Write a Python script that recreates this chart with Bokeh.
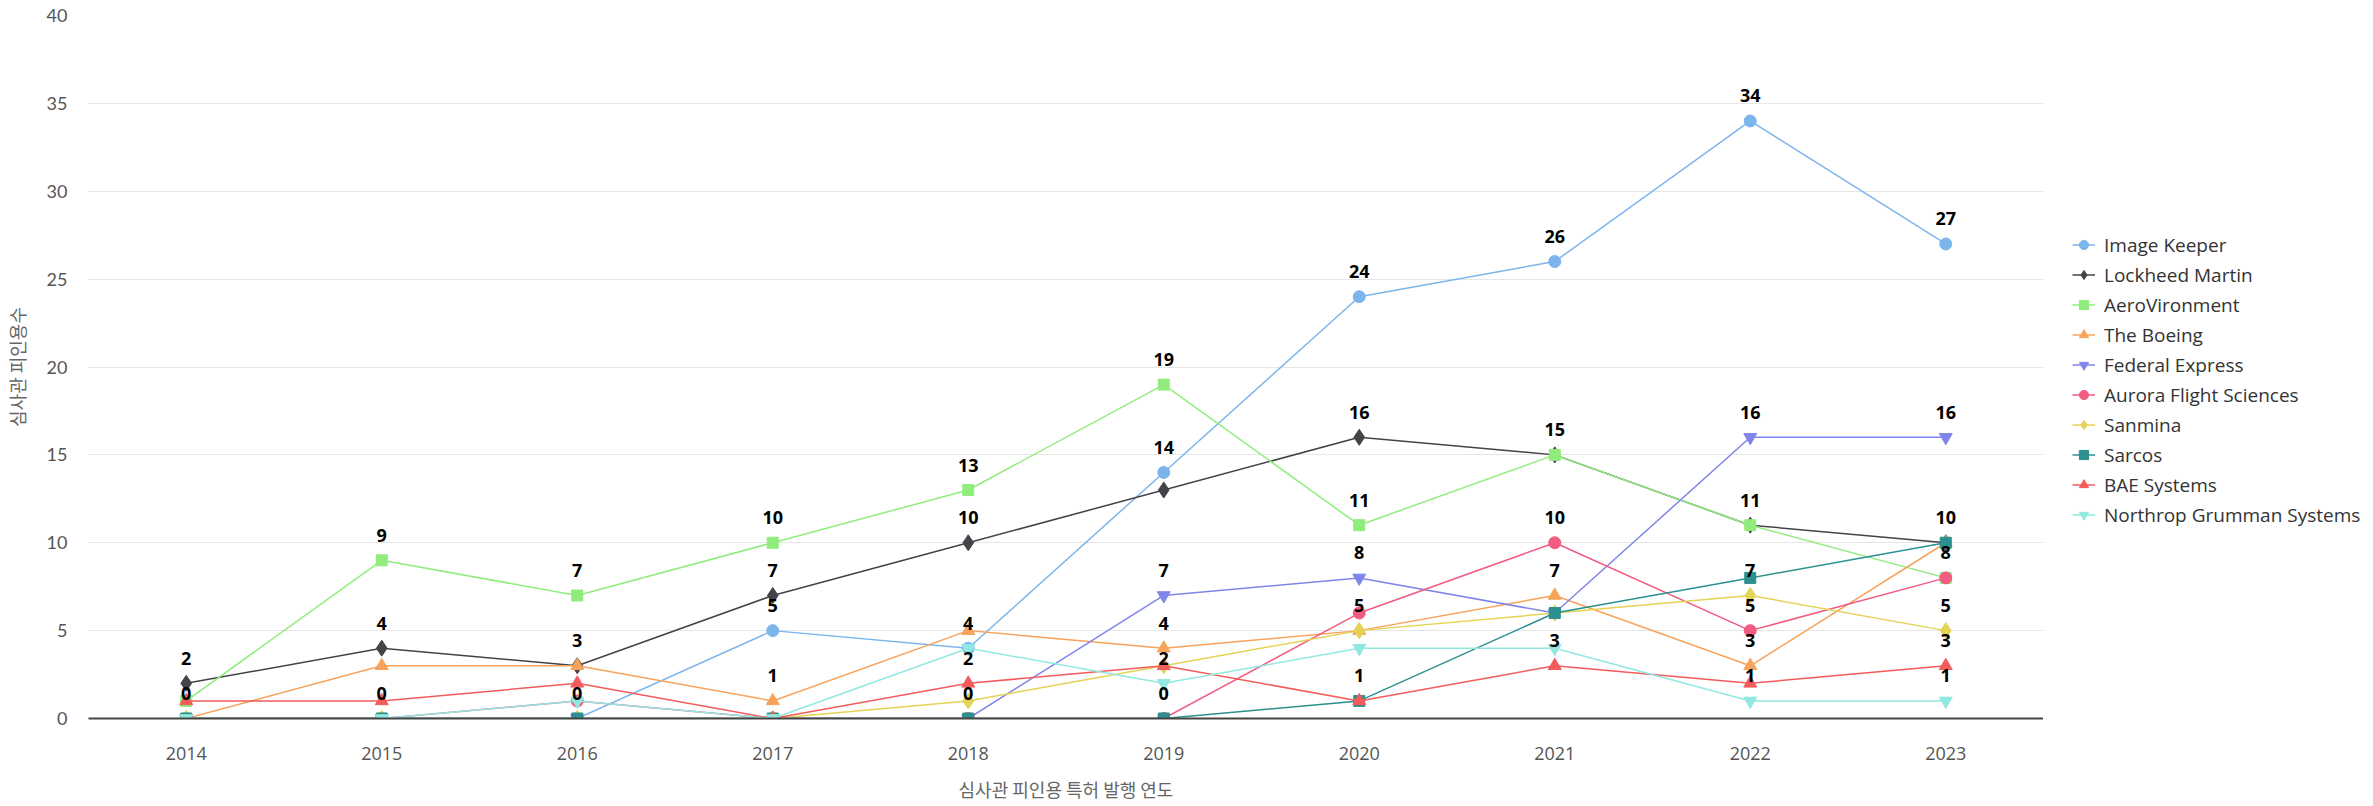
from bokeh.plotting import figure
from bokeh.layouts import row
from bokeh.models import Legend, LegendItem, ColumnDataSource, Range1d, FactorRange, SingleIntervalTicker
from bokeh.embed import file_html
from bokeh.resources import INLINE
from bokeh.core.properties import value

# ---------------- data ----------------
years = ["2014", "2015", "2016", "2017", "2018", "2019", "2020", "2021", "2022", "2023"]

series_names = ["Image Keeper", "Lockheed Martin", "AeroVironment", "The Boeing", "Federal Express",
                "Aurora Flight Sciences", "Sanmina", "Sarcos", "BAE Systems", "Northrop Grumman Systems"]

image_keeper = [0, 0, 0, 5, 4, 14, 24, 26, 34, 27]
lockheed_martin = [2, 4, 3, 7, 10, 13, 16, 15, 11, 10]
aerovironment = [1, 9, 7, 10, 13, 19, 11, 15, 11, 8]
the_boeing = [0, 3, 3, 1, 5, 4, 5, 7, 3, 10]
federal_express = [0, 0, 0, 0, 0, 7, 8, 6, 16, 16]
aurora_flight = [0, 0, 1, 0, 0, 0, 6, 10, 5, 8]
sanmina = [0, 0, 0, 0, 1, 3, 5, 6, 7, 5]
sarcos = [0, 0, 0, 0, 0, 0, 1, 6, 8, 10]
bae_systems = [1, 1, 2, 0, 2, 3, 1, 3, 2, 3]
northrop_grumman = [0, 0, 1, 0, 4, 2, 4, 4, 1, 1]

series_values = [image_keeper, lockheed_martin, aerovironment, the_boeing, federal_express,
                 aurora_flight, sanmina, sarcos, bae_systems, northrop_grumman]

y_ticks_interval = 5
y_max = 40
x_title = "심사관 피인용 특허 발행 연도"
y_title = "심사관 피인용수"

# ---------------- style ----------------
colors = ["#7cb5ec", "#434348", "#90ed7d", "#f7a35c", "#8085e9",
          "#f15c80", "#e4d354", "#2b908f", "#f45b5b", "#91e8e1"]
markers = ["circle", "diamond", "square", "triangle", "inverted_triangle",
           "circle", "diamond", "square", "triangle", "inverted_triangle"]
marker_sizes = {"circle": 12, "diamond": 16, "square": 11, "triangle": 13, "inverted_triangle": 13}

FRAME_W, FRAME_H = 1955, 703
TOP, BOTTOM = 15, 88
CANVAS_H = TOP + FRAME_H + BOTTOM

p = figure(
    x_range=FactorRange(*years, range_padding=0),
    y_range=Range1d(0, y_max),
    frame_width=FRAME_W, frame_height=FRAME_H,
    min_border_left=83, min_border_right=0, min_border_top=TOP, min_border_bottom=BOTTOM,
    output_backend="svg", toolbar_location=None,
)
p.outline_line_color = None
p.background_fill_color = "white"

# axes
p.xaxis.axis_line_color = "#444444"
p.xaxis.axis_line_width = 2
p.xaxis.major_tick_line_color = None
p.xaxis.minor_tick_line_color = None
p.xaxis.major_tick_out = 0
p.xaxis.major_tick_in = 0
p.xaxis.major_label_standoff = 28
p.xaxis.major_label_text_font = "Open Sans"
p.xaxis.major_label_text_font_size = "18px"
p.xaxis.major_label_text_color = "#555555"
p.xaxis.axis_label = x_title
p.xaxis.axis_label_text_font = "Noto Sans CJK KR"
p.xaxis.axis_label_text_font_size = "18px"
p.xaxis.axis_label_text_font_style = "normal"
p.xaxis.axis_label_text_color = "#666666"
p.xaxis.axis_label_standoff = 13

p.yaxis.ticker = SingleIntervalTicker(interval=y_ticks_interval)
p.yaxis.axis_line_color = None
p.yaxis.major_tick_line_color = None
p.yaxis.minor_tick_line_color = None
p.yaxis.major_tick_out = 0
p.yaxis.major_tick_in = 0
p.yaxis.major_label_standoff = 17
p.yaxis.major_label_text_font = "Lato"
p.yaxis.major_label_text_font_size = "18px"
p.yaxis.major_label_text_color = "#555555"
p.yaxis.axis_label = y_title
p.yaxis.axis_label_text_font = "Noto Sans CJK KR"
p.yaxis.axis_label_text_font_size = "18px"
p.yaxis.axis_label_text_font_style = "normal"
p.yaxis.axis_label_text_color = "#666666"
p.yaxis.axis_label_standoff = 14

p.xgrid.grid_line_color = None
p.ygrid.grid_line_color = "#e6e6e6"
p.ygrid.grid_line_width = 1

# legend lives in a small companion figure to the right; its renderers' data lie outside its ranges
lg = figure(width=319, height=CANVAS_H, x_range=Range1d(-2, -1), y_range=Range1d(-2, -1),
            x_axis_type=None, y_axis_type=None,
            min_border_left=0, min_border_top=TOP, min_border_right=0, min_border_bottom=BOTTOM,
            output_backend="svg", toolbar_location=None)
lg.outline_line_color = None
lg.grid.grid_line_color = None

legend_items = []
for name, vals, col, mk in zip(series_names, series_values, colors, markers):
    src = ColumnDataSource(dict(x=years, y=vals))
    p.line("x", "y", source=src, line_color=col, line_width=1.5)
    p.scatter("x", "y", source=src, marker=mk, size=marker_sizes[mk], fill_color=col, line_color=col)
    hidden_src = ColumnDataSource(dict(x=vals, y=vals))
    ln = lg.line("x", "y", source=hidden_src, line_color=col, line_width=1.5)
    sc = lg.scatter("x", "y", source=hidden_src, marker=mk, size=marker_sizes[mk],
                    fill_color=col, line_color=col)
    legend_items.append(LegendItem(label=name, renderers=[ln, sc]))

# data labels: hide labels overlapping an already-shown label in the same year (Highcharts-like)
px_per_unit = FRAME_H / y_max
label_h = 22
shown = {y: [] for y in years}
lab_x, lab_y, lab_t = [], [], []
for vals in series_values:
    for yr, v in zip(years, vals):
        py = v * px_per_unit
        if all(abs(py - q) >= label_h for q in shown[yr]):
            shown[yr].append(py)
            lab_x.append(yr)
            lab_y.append(v)
            lab_t.append(str(v))
p.text(x=lab_x, y=lab_y, text=lab_t, y_offset=-25, text_align="center", text_baseline="middle",
       text_font=value("Open Sans"), text_font_size="18px", text_font_style="bold", text_color="#000000")

legend_h = 10 * 27 + 9 * 3
legend_top = 231 - TOP  # from frame top
legend = Legend(items=legend_items, location=(29, FRAME_H - legend_top - legend_h), orientation="vertical")
legend.margin = 0
legend.padding = 0
legend.border_line_color = None
legend.background_fill_alpha = 0
legend.glyph_width = 23
legend.glyph_height = 27
legend.label_height = 27
legend.spacing = 3
legend.label_standoff = 9
legend.label_text_font = "Open Sans"
legend.label_text_font_size = "19px"
legend.label_text_color = "#333333"
lg.add_layout(legend, "center")

layout = row(p, lg)
open("out.html", "w").write(file_html(layout, INLINE))
